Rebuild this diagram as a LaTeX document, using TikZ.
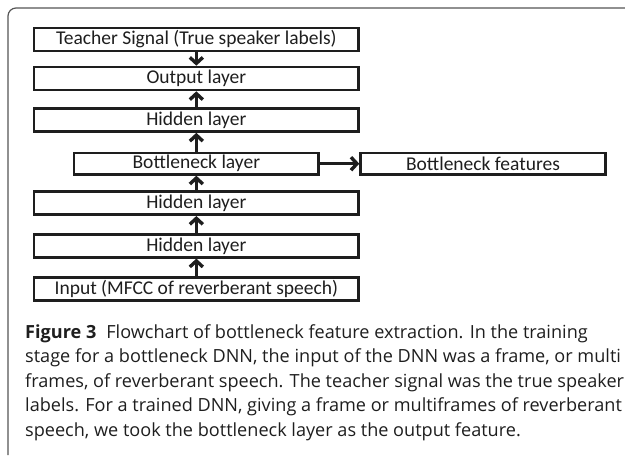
\documentclass[tikz,border=0pt]{standalone}
\usepackage{fontspec}
\setmainfont{Carlito}
\newfontfamily\capfont{Open Sans}
\usetikzlibrary{arrows.meta}
\definecolor{ink}{HTML}{1E1E1E}
\definecolor{framec}{HTML}{555555}
\tikzset{
  layerbox/.style={draw=ink, line width=2.6pt, minimum width=324.7pt, minimum height=23pt, inner sep=0pt,
    font=\fontsize{19.5}{22}\selectfont, text=ink},
  conn/.style={draw=ink, line width=3.4pt, -{Straight Barb[length=6pt,width=13pt]}},
  capline/.style={anchor=base west, inner sep=0pt, font=\capfont\fontsize{18.1}{22}\selectfont, text=ink}
}
\begin{document}
\begin{tikzpicture}[x=1pt,y=-1pt]
\useasboundingbox (0,0) rectangle (625,459);
\draw[framec, line width=1.2pt, rounded corners=8pt] (8,455) -- (8,8) -- (640,8);
\node[layerbox] (teacher) at (196.35,39.5) {Teacher Signal (True speaker labels)};
\node[layerbox] (output) at (196.35,78.5) {Output layer};
\node[layerbox] (hid1) at (196.35,120) {Hidden layer};
\node[layerbox, minimum width=244.7pt, minimum height=21.4pt] (bneck) at (196.35,163.7) {Bottleneck layer};
\node[layerbox, minimum width=244.8pt, minimum height=21.4pt] (feat) at (483,163.7) {Bottleneck features};
\node[layerbox] (hid2) at (196.35,203.2) {Hidden layer};
\node[layerbox] (hid3) at (196.35,245.8) {Hidden layer};
\node[layerbox] (input) at (196.35,288.9) {Input (MFCC of reverberant speech)};
\draw[conn] (teacher) -- (output);
\draw[conn] (hid1) -- (output);
\draw[conn] (bneck) -- (hid1);
\draw[conn] (hid2) -- (bneck);
\draw[conn] (hid3) -- (hid2);
\draw[conn] (input) -- (hid3);
\draw[conn] (bneck) -- (feat);
\node[capline] (c1) at (25,338) {\textbf{Figure 3}\hspace{10pt}Flowchart of bottleneck feature extraction. In the training};
\node[capline] (c2) at (25,362.5) {stage for a bottleneck DNN, the input of the DNN was a frame, or multi};
\node[capline] (c3) at (25,387) {frames, of reverberant speech. The teacher signal was the true speaker};
\node[capline] (c4) at (25,411.5) {labels. For a trained DNN, giving a frame or multiframes of reverberant};
\node[capline] (c5) at (25,436) {speech, we took the bottleneck layer as the output feature.};
\end{tikzpicture}
\end{document}
